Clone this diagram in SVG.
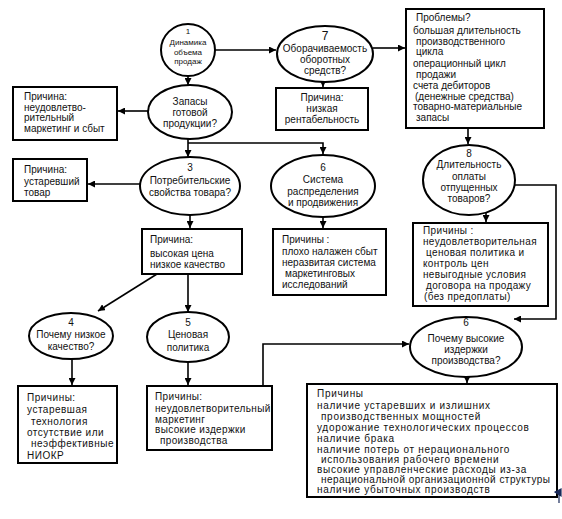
<svg xmlns="http://www.w3.org/2000/svg" width="562" height="519" viewBox="0 0 562 519" xml:space="preserve">
<defs>
<marker id="ah" viewBox="0 0 8 8" refX="8" refY="4" markerWidth="7" markerHeight="7" markerUnits="userSpaceOnUse" orient="auto"><path d="M0,0 L8,4 L0,8 z" fill="#000"/></marker>
</defs>
<style>
.n ellipse, .n rect {fill:#fff; stroke:#000; stroke-width:2}
text {font-family:"Liberation Sans", Arial, sans-serif; font-size:10px; fill:#111}
.c {text-anchor:middle}
.s {font-size:8px}
.w1 {letter-spacing:0.35px}
.w2 {letter-spacing:0.5px}
.w3 {letter-spacing:0.7px}
#edges path {fill:none; stroke:#000; stroke-width:1.6; marker-end:url(#ah)}
</style>
<rect width="562" height="519" fill="#fff"/>
<g id="edges">
<path d="M188,76 V85"/>
<path d="M215,50 H276"/>
<path d="M373,48 H405"/>
<path d="M323,81 V87"/>
<path d="M468,128 V144"/>
<path d="M148,111 H118"/>
<path d="M188,139 V157"/>
<path d="M188,143 H323 V154"/>
<path d="M140,184 H88"/>
<path d="M190,215 V228"/>
<path d="M323,217 V228"/>
<path d="M157,274 L98,311"/>
<path d="M188,274 V312"/>
<path d="M72,359 V385"/>
<path d="M188,362 V385"/>
<path d="M263,386 V344 H409"/>
<path d="M514,185 H556 V319 H514"/>
<path d="M486,213 V222"/>
<path d="M467,377 V383"/>
</g>
<g id="n1" class="n"><ellipse cx="188" cy="50" rx="27" ry="26"/>
<text class="c s" x="188" y="34">1</text><text class="c s" x="188" y="45">Динамика</text><text class="c s" x="188" y="55">объема</text><text class="c s" x="188" y="64">продаж</text></g>
<g id="n2" class="n"><ellipse cx="190" cy="112" rx="42" ry="27"/>
<text class="c" x="190" y="105">Запасы</text><text class="c" x="190" y="116">готовой</text><text class="c" x="190" y="127">продукции?</text></g>
<g id="bA" class="n"><rect x="13" y="87" width="104" height="53"/>
<text x="24" y="100">Причина:</text><text x="24" y="111">неудовлетво-</text><text x="24" y="121">рительный</text><text x="24" y="132">маркетинг и сбыт</text></g>
<g id="n7" class="n"><ellipse cx="325" cy="54" rx="48" ry="28"/>
<text class="c" x="325" y="40" style="font-size:12px">7</text><text class="c" x="325" y="52">Оборачиваемость</text><text class="c" x="325" y="63">оборотных</text><text class="c" x="325" y="74">средств?</text></g>
<g id="bR" class="n"><rect x="276" y="88" width="92" height="42"/>
<text class="c" x="322" y="101">Причина:</text><text class="c" x="322" y="112">низкая</text><text class="c" x="322" y="123">рентабельность</text></g>
<g id="bP" class="n"><rect x="406" y="9" width="138" height="119"/>
<text x="416" y="21">Проблемы?</text>
<text x="413" y="34">большая длительность</text>
<text x="416" y="45">производственного</text>
<text x="416" y="55">цикла</text>
<text x="413" y="67">операционный цикл</text>
<text x="416" y="78">продажи</text>
<text x="413" y="89">счета дебиторов</text>
<text x="415" y="100">(денежные средства)</text>
<text x="413" y="110">товарно-материальные</text>
<text x="416" y="121">запасы</text></g>
<g id="n3" class="n"><ellipse cx="190" cy="186" rx="50" ry="29"/>
<text class="c" x="190" y="171">3</text><text class="c" x="190" y="184">Потребительские</text><text class="c" x="190" y="196">свойства товара?</text></g>
<g id="bB" class="n"><rect x="13" y="159" width="74" height="42"/>
<text x="24" y="173">Причина:</text><text x="24" y="185">устаревший</text><text x="24" y="196">товар</text></g>
<g id="n6a" class="n"><ellipse cx="323" cy="186" rx="52" ry="31"/>
<text class="c" x="323" y="171">6</text><text class="c" x="323" y="183">Система</text><text class="c" x="323" y="195">распределения</text><text class="c" x="323" y="206">и продвижения</text></g>
<g id="bC" class="n"><rect x="273" y="229" width="113" height="66"/>
<text x="282" y="243">Причины :</text><text x="282" y="255">плохо налажен сбыт</text><text x="282" y="266">неразвитая система</text><text x="285" y="277">маркетинговых</text><text x="282" y="288">исследований</text></g>
<g id="bD" class="n"><rect x="142" y="229" width="100" height="45"/>
<text x="150" y="243">Причина:</text><text x="150" y="257">высокая цена</text><text x="150" y="268">низкое качество</text></g>
<g id="n8" class="n"><ellipse cx="469" cy="180" rx="46" ry="35"/>
<text class="c" x="469" y="157">8</text><text class="c" x="469" y="168">Длительность</text><text class="c" x="469" y="180">оплаты</text><text class="c" x="469" y="191">отпущенных</text><text class="c" x="469" y="202">товаров?</text></g>
<g id="bH" class="n"><rect x="413" y="223" width="135" height="83"/>
<text class="w1" x="423" y="234">Причины :</text><text class="w1" x="423" y="245">неудовлетворительная</text><text class="w1" x="426" y="256">ценовая политика и</text><text class="w1" x="423" y="267">контроль цен</text><text class="w1" x="423" y="278">невыгодные условия</text><text class="w1" x="426" y="289">договора на продажу</text><text class="w1" x="424" y="300">(без предоплаты)</text></g>
<g id="n4" class="n"><ellipse cx="71" cy="336" rx="42" ry="23"/>
<text class="c" x="71" y="326">4</text><text class="c" x="71" y="338">Почему низкое</text><text class="c" x="71" y="350">качество?</text></g>
<g id="n5" class="n"><ellipse cx="188" cy="337" rx="41" ry="25"/>
<text class="c" x="188" y="326">5</text><text class="c" x="188" y="338">Ценовая</text><text class="c" x="188" y="351">политика</text></g>
<g id="n6b" class="n"><ellipse cx="466" cy="347" rx="56" ry="30"/>
<text class="c" x="466" y="326">6</text><text class="c" x="466" y="342">Почему высокие</text><text class="c" x="466" y="353">издержки</text><text class="c" x="466" y="364">производства?</text></g>
<g id="bE" class="n"><rect x="18" y="386" width="99" height="77"/>
<text class="w2" x="27" y="401">Причины:</text><text class="w2" x="27" y="413">устаревшая</text><text class="w2" x="31" y="425">технология</text><text class="w2" x="27" y="436">отсутствие или</text><text class="w2" x="31" y="447">неэффективные</text><text class="w2" x="27" y="459">НИОКР</text></g>
<g id="bF" class="n"><rect x="147" y="386" width="125" height="64"/>
<text class="w1" x="155" y="400">Причины:</text><text class="w1" x="155" y="412">неудовлетворительный</text><text class="w1" x="155" y="423">маркетинг</text><text class="w1" x="155" y="433">высокие издержки</text><text class="w1" x="160" y="444">производства</text></g>
<g id="bG" class="n"><rect x="307" y="384" width="250" height="113"/>
<text class="w3" x="317" y="397">Причины</text>
<text class="w3" x="317" y="409">наличие устаревших и излишних</text>
<text class="w3" x="321" y="420">производственных мощностей</text>
<text class="w3" x="317" y="431">удорожание технологических процессов</text>
<text class="w3" x="317" y="442">наличие брака</text>
<text class="w3" x="317" y="453">наличие потерь от нерационального</text>
<text class="w3" x="321" y="463">использования рабочего времени</text>
<text class="w3" x="317" y="473">высокие управленческие расходы из-за</text>
<text x="321" y="483" textLength="229" lengthAdjust="spacing">нерациональной организационной структуры</text>
<text class="w3" x="317" y="493">наличие убыточных производств</text></g>
<path d="M561,489 L555,492 L561,496 Z M559,492 V503" fill="#1a2a5a" stroke="#1a2a5a" stroke-width="1.2"/>
</svg>
